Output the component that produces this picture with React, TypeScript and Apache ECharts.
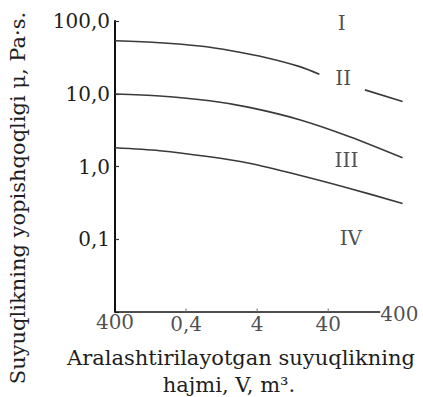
import React, { useEffect, useRef } from "react";
import * as echarts from "echarts";

// x tick values and their printed labels (as in the picture)
const xTickValues = [0.04, 0.4, 4, 40, 400];
const xTickLabels = ["400", "0,4", "4", "40", "400"];
// drawn extent of the x axis line
const xAxisLineSpan = [0.04, 215];

// curves: [volume V, viscosity μ]
const curveIa = [[0.04, 53.6], [0.17, 50.3], [0.62, 45.3], [1.81, 38.7], [5.4, 31.3], [15.9, 23.6], [30, 18.5]];
const curveIb = [[131, 11.3], [444, 7.8]];
const curveII = [[0.04, 9.9], [0.17, 9.3], [0.86, 8.0], [3.1, 6.5], [15.8, 4.4], [80, 2.57], [444, 1.32]];
const curveIII = [[0.04, 1.81], [0.17, 1.65], [0.86, 1.36], [3.1, 1.11], [15.8, 0.76], [80, 0.5], [444, 0.31]];

// zone labels
const zoneNames = ["I", "II", "III", "IV"];
const zoneX = [62, 65, 72, 83];
const zoneY = [94, 16.3, 1.23, 0.104];

const yTitle = "Suyuqlikning yopishqoqligi μ, Pa·s.";
const xTitle1 = "Aralashtirilayotgan suyuqlikning";
const xTitle2 = "hajmi, V, m³.";

const FONT = '"DejaVu Serif", serif';
const TEXT = "#1e1e1e";
const LINE = "#3a3a3a";

export default function App() {
  const ref = useRef<HTMLDivElement>(null);
  useEffect(() => {
    if (!ref.current) return;
    const chart = echarts.init(ref.current, undefined, { renderer: "svg" });
    const curveStyle = { color: LINE, width: 1.6 };
    const curve = (name: string, data: number[][]) => ({
      name,
      type: "line",
      data,
      smooth: 0.3,
      showSymbol: false,
      symbol: "none",
      clip: false,
      lineStyle: curveStyle,
      silent: true,
    });
    chart.setOption({
      animation: false,
      backgroundColor: "#ffffff",
      grid: { left: 115, right: 20, top: 21, bottom: 85, containLabel: false, outerBoundsMode: "none" },
      xAxis: {
        type: "log",
        logBase: 10,
        min: 0.04,
        max: 450,
        axisLine: { show: false },
        axisTick: { show: false },
        minorTick: { show: false },
        axisLabel: { show: false },
        splitLine: { show: false },
      },
      yAxis: {
        type: "log",
        logBase: 10,
        min: 0.01,
        max: 100,
        axisLine: { show: true, lineStyle: { color: "#111", width: 2 } },
        axisTick: { show: true, inside: true, length: 4, lineStyle: { color: "#333", width: 1.2 } },
        minorTick: { show: false },
        splitLine: { show: false },
        axisLabel: {
          margin: 5,
          fontFamily: FONT,
          fontSize: 20,
          color: TEXT,
          formatter: (v: number) => (v < 0.05 ? "" : v.toFixed(1).replace(".", ",")),
        },
      },
      series: [
        {
          name: "x-axis",
          type: "line",
          data: xAxisLineSpan.map((v) => [v, 0.01]),
          showSymbol: false,
          symbol: "none",
          clip: false,
          silent: true,
          lineStyle: { color: "#111", width: 1.5 },
          z: 3,
        },
        curve("I", curveIa),
        curve("I-b", curveIb),
        curve("II", curveII),
        curve("III", curveIII),
        {
          name: "zones",
          type: "scatter",
          symbolSize: 0,
          clip: false,
          silent: true,
          data: zoneNames.map((n, i) => ({ name: n, value: [zoneX[i], zoneY[i]] })),
          label: {
            show: true,
            position: "inside",
            formatter: "{b}",
            fontFamily: FONT,
            fontSize: 20,
            color: TEXT,
          },
        },
        {
          name: "xticks",
          type: "scatter",
          clip: false,
          silent: true,
          symbol: "rect",
          itemStyle: { color: "#888" },
          z: 4,
          data: xTickValues.map((v, i) => ({
            name: xTickLabels[i],
            value: [v, 0.01],
            symbolSize: i === 0 || i === xTickValues.length - 1 ? 0 : [1.5, 3],
            symbolOffset: [0, -2],
            label: i === xTickValues.length - 1 ? { offset: [0, -8] } : undefined,
          })),
          label: {
            show: true,
            position: "bottom",
            distance: 2,
            formatter: "{b}",
            fontFamily: FONT,
            fontSize: 20,
            color: TEXT,
          },
        },
      ],
      graphic: [
        {
          type: "text",
          x: 18,
          y: 198,
          rotation: Math.PI / 2,
          style: { text: yTitle, fontFamily: FONT, fontSize: 21, fill: TEXT, align: "center", verticalAlign: "middle" },
        },
        {
          type: "text",
          x: 241,
          y: 358,
          style: { text: xTitle1, fontFamily: FONT, fontSize: 21, fill: TEXT, align: "center", verticalAlign: "middle" },
        },
        {
          type: "text",
          x: 229,
          y: 385,
          style: { text: xTitle2, fontFamily: FONT, fontSize: 21, fill: TEXT, align: "center", verticalAlign: "middle" },
        },
      ],
    });
    return () => chart.dispose();
  }, []);
  return <div ref={ref} style={{ width: 423, height: 397, position: "absolute", left: 0, top: 0 }} />;
}
